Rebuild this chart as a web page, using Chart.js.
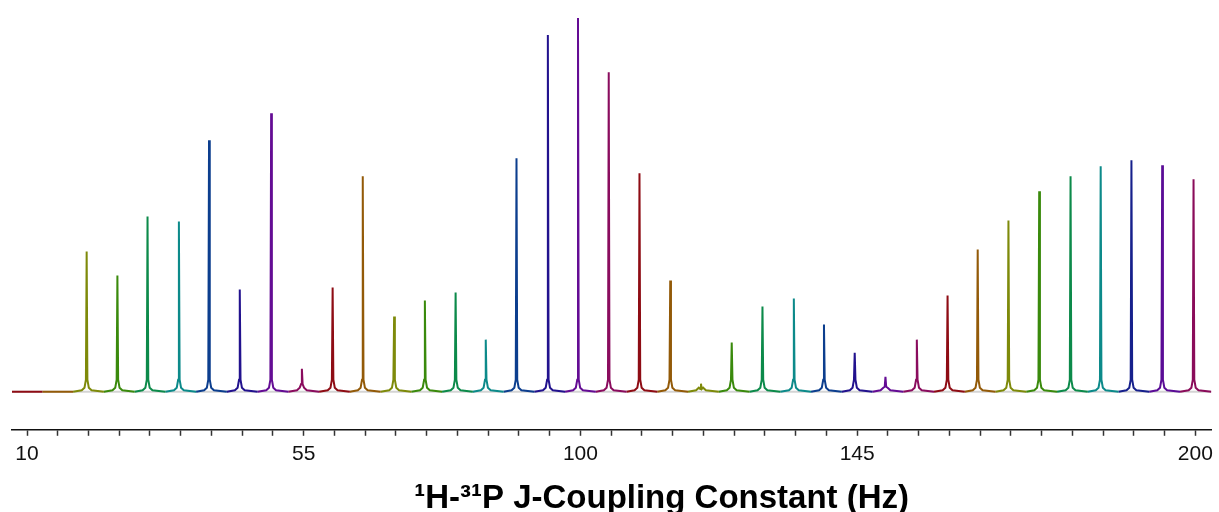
<!DOCTYPE html>
<html>
<head>
<meta charset="utf-8">
<script src="https://cdn.jsdelivr.net/npm/chart.js@4.4.1/dist/chart.umd.min.js"></script>
<style>
  html, body { margin: 0; padding: 0; background: #fff; }
  #wrap { width: 1219px; height: 512px; }
</style>
</head>
<body>
<div id="wrap"><canvas id="chart" width="1219" height="512"></canvas></div>
<script>
// nominal J value of each spectrum (Hz), one coloured trace per value
const jNominal = [10, 15, 20, 25, 30, 35, 40, 45, 50, 55, 60, 65, 70, 75, 80, 85, 90, 95, 100,
  105, 110, 115, 120, 125, 130, 135, 140, 145, 150, 155, 160, 165, 170, 175, 180, 185, 190, 195, 200];

// observed peak position (Hz) and peak height (arb. units) for each spectrum
const peakPos = [null, null, 19.7, 24.7, 29.6, 34.7, 39.6, 44.6, 49.7, 54.7, 59.7, 64.6,
  69.7, 74.7, 79.7, 84.6, 89.6, 94.7, 99.6, 104.6, 109.6, 114.6,
  119.6, 124.6, 129.6, 134.7, 139.6, 144.6, 149.6, 154.7, 159.7, 164.6,
  169.6, 174.6, 179.7, 184.6, 189.6, 194.6, 199.7];
const peakHeight = [0, 0, 140, 116, 175, 170, 251, 102, 278, 23, 104, 215,
  75, 91, 99, 52, 233, 356, 373, 319, 218, 111,
  8, 49, 85, 93, 67, 39, 15, 52, 96, 142,
  171, 200, 215, 225, 231, 226, 212];

// axis
const xMin = 7.56;
const xMax = 202.6;
const tickStep = 5;
const majorTicks = [10, 55, 100, 145, 200];
const xTitle = '\u00B9H-\u00B3\u00B9P J-Coupling Constant (Hz)';

// colour cycle of the traces
const palette = ['#8e0c14', '#935a08', '#7e8a0a', '#3a8a0c', '#0c8a4a', '#0c8a8a',
  '#0c3e8e', '#22128e', '#640c94', '#8a0c5e'];
const traceColors = jNominal.map((j, i) => palette[i % palette.length]);
traceColors[36] = '#16208c';
traceColors[37] = '#5a0c96';
traceColors[38] = '#8a0c5a';

function tracePoints(i) {
  const start = i === 0 ? xMin : jNominal[i] - 2.5;
  const end = i === jNominal.length - 1 ? xMax : jNominal[i] + 2.5;
  const pts = [{ x: start, y: 0 }];
  const p = peakPos[i];
  const h = peakHeight[i];
  if (p !== null) {
    const shoulder = Math.min(12, h / 3);
    pts.push({ x: p - 0.8, y: 1.5 }, { x: p - 0.35, y: 4 }, { x: p - 0.12, y: shoulder },
      { x: p, y: h },
      { x: p + 0.12, y: shoulder }, { x: p + 0.35, y: 4 }, { x: p + 0.8, y: 1.5 });
  }
  pts.push({ x: end, y: 0 });
  return pts;
}

const datasets = jNominal.map((j, i) => ({
  data: tracePoints(i),
  borderColor: traceColors[i],
  borderWidth: 2,
  pointRadius: 0,
  tension: 0,
  order: 0
}));

// faint zero line under the traces
datasets.push({
  data: [{ x: xMin, y: 0 }, { x: xMax, y: 0 }],
  borderColor: '#d4d4d4',
  borderWidth: 2,
  pointRadius: 0,
  order: 1
});

const axisTitlePlugin = {
  id: 'axisTitle',
  afterDraw(chart) {
    const ctx = chart.ctx;
    const x = chart.scales.x.getPixelForValue(113.2);
    ctx.save();
    ctx.font = 'bold 33px "Liberation Sans", Arial, sans-serif';
    ctx.fillStyle = '#000';
    ctx.textAlign = 'center';
    ctx.textBaseline = 'alphabetic';
    ctx.fillText(xTitle, x, 508);
    ctx.restore();
  }
};

new Chart(document.getElementById('chart'), {
  type: 'line',
  data: { datasets: datasets },
  plugins: [axisTitlePlugin],
  options: {
    responsive: false,
    animation: false,
    layout: { padding: { left: 12, right: 7, top: 0, bottom: 39 } },
    plugins: {
      legend: { display: false },
      tooltip: { enabled: false }
    },
    scales: {
      x: {
        type: 'linear',
        min: xMin,
        max: xMax,
        afterBuildTicks: (scale) => {
          const ticks = [];
          for (let v = majorTicks[0]; v <= majorTicks[majorTicks.length - 1]; v += tickStep) {
            ticks.push({ value: v });
          }
          scale.ticks = ticks;
        },
        grid: {
          drawOnChartArea: false,
          drawTicks: true,
          tickLength: 6,
          tickColor: '#333',
          tickWidth: 1.5
        },
        border: { display: true, color: '#111', width: 1.5 },
        ticks: {
          autoSkip: false,
          maxRotation: 0,
          padding: 6,
          color: '#111',
          font: { family: '"Liberation Sans", Arial, sans-serif', size: 21 },
          callback: (v) => majorTicks.includes(v) ? String(v) : ''
        }
      },
      y: {
        display: false,
        min: -38,
        max: 391
      }
    }
  }
});
</script>
</body>
</html>
